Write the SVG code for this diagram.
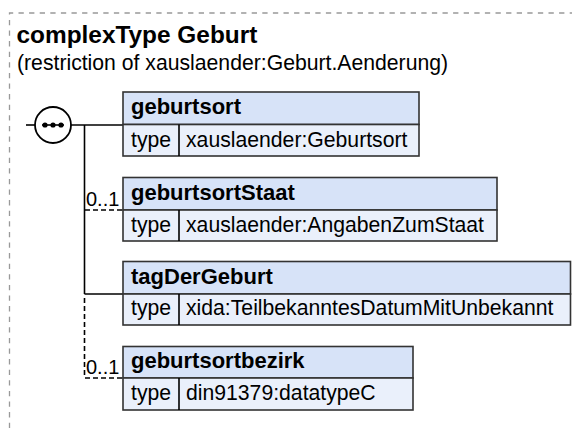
<svg xmlns="http://www.w3.org/2000/svg" width="572" height="428" viewBox="0 0 572 428">
<style>
text{font-family:"Liberation Sans",Arial,sans-serif;fill:#000}
.title{font-size:24.4px;font-weight:bold}
.sub{font-size:21.2px}
.hd{font-size:22px;font-weight:bold}
.bd{font-size:21.2px}
.occ{font-size:20px}
.hdr{fill:#d7e3f8;stroke:#333;stroke-width:1.6}
.body{fill:#eaf0fb;stroke:#333;stroke-width:1.6}
.ln{stroke:#000;stroke-width:1.6;fill:none}
.dash{stroke:#000;stroke-width:1.6;fill:none;stroke-dasharray:5,3}
.border{stroke:#999;stroke-width:1.3;fill:none;stroke-dasharray:5.3,5.3}
</style>
<rect width="572" height="428" fill="#fff"/>
<path class="border" d="M9.5 428 V13 H572"/>
<text class="title" x="16.5" y="43">complexType Geburt</text>
<text class="sub" x="17" y="70">(restriction of xauslaender:Geburt.Aenderung)</text>
<g id="connectors">
<line class="ln" x1="26" y1="125" x2="35" y2="125"/>
<line class="ln" x1="71" y1="125" x2="123" y2="125"/>
<line class="ln" x1="84.5" y1="125" x2="84.5" y2="294"/>
<line class="dash" x1="84.5" y1="298" x2="84.5" y2="378"/>
<line class="dash" x1="85" y1="210" x2="123" y2="210"/>
<line class="ln" x1="84.5" y1="294" x2="123" y2="294"/>
<line class="dash" x1="85" y1="378" x2="123" y2="378"/>
<text class="occ" x="86" y="206">0..1</text>
<text class="occ" x="86" y="374">0..1</text>
</g>
<g id="sequence">
<circle cx="53" cy="125" r="18" fill="#fff" stroke="#000" stroke-width="1.8"/>
<circle cx="45" cy="125" r="2.6" fill="#000"/>
<circle cx="53" cy="125" r="2.6" fill="#000"/>
<circle cx="61" cy="125" r="2.6" fill="#000"/>
<line class="ln" x1="42" y1="125" x2="64" y2="125"/>
</g>
<g id="geburtsort">
<rect class="hdr" x="123" y="92" width="296" height="32.5"/>
<rect class="body" x="123" y="124.5" width="296" height="31.5"/>
<line class="ln" x1="179" y1="124.5" x2="179" y2="156" stroke="#333"/>
<text class="hd" x="131" y="114">geburtsort</text>
<text class="bd" x="131" y="146.5">type</text>
<text class="bd" x="186" y="146.5">xauslaender:Geburtsort</text>
</g>
<g id="geburtsortStaat">
<rect class="hdr" x="123" y="177.5" width="374" height="32.5"/>
<rect class="body" x="123" y="210" width="374" height="31"/>
<line class="ln" x1="179" y1="210" x2="179" y2="241" stroke="#333"/>
<text class="hd" x="131" y="199.5">geburtsortStaat</text>
<text class="bd" x="131" y="231.5">type</text>
<text class="bd" x="186" y="231.5">xauslaender:AngabenZumStaat</text>
</g>
<g id="tagDerGeburt">
<rect class="hdr" x="123" y="261.5" width="447.5" height="32.5"/>
<rect class="body" x="123" y="294" width="447.5" height="31"/>
<line class="ln" x1="179" y1="294" x2="179" y2="325" stroke="#333"/>
<text class="hd" x="131" y="283.5">tagDerGeburt</text>
<text class="bd" x="131" y="315">type</text>
<text class="bd" x="186" y="315">xida:TeilbekanntesDatumMitUnbekannt</text>
</g>
<g id="geburtsortbezirk">
<rect class="hdr" x="123" y="346.5" width="290" height="31.5"/>
<rect class="body" x="123" y="378" width="290" height="32"/>
<line class="ln" x1="179" y1="378" x2="179" y2="410" stroke="#333"/>
<text class="hd" x="131" y="367.5">geburtsortbezirk</text>
<text class="bd" x="131" y="400">type</text>
<text class="bd" x="186" y="400">din91379:datatypeC</text>
</g>
</svg>
